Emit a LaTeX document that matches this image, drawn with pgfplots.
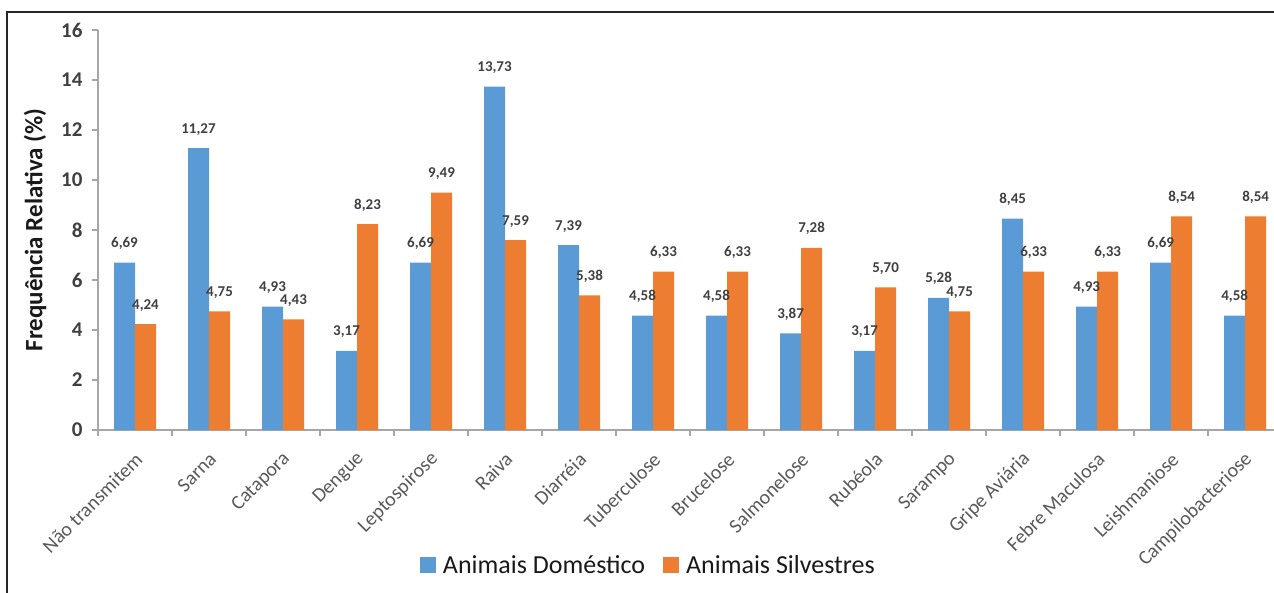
\documentclass[border=0pt]{standalone}
\usepackage{fontspec}
\setmainfont{Carlito}
\usepackage{pgfplots}
\pgfplotsset{compat=1.18}
\definecolor{cblue}{HTML}{5B9BD5}
\definecolor{corange}{HTML}{ED7D31}
\definecolor{txtdark}{HTML}{404040}
\definecolor{txtgray}{HTML}{595959}
\definecolor{axgray}{HTML}{A6A6A6}
\begin{document}
\begin{tikzpicture}[x=1pt,y=1pt]
\path[use as bounding box] (0,0) rectangle (1274,592);
\draw[line width=1.2pt, black!85] (7,-2) -- (7,580) -- (1280,580);
\begin{axis}[
  at={(98pt,162pt)}, anchor=south west,
  scale only axis, width=1176pt, height=400pt,
  xmin=-0.5, xmax=15.39, ymin=0, ymax=16,
  ybar=0pt, bar width=21pt,
  axis x line*=bottom, axis y line*=left,
  axis line style={axgray, line width=1.3pt},
  tick style={axgray, line width=1.3pt},
  tick align=outside, major tick length=6pt,
  /pgf/number format/assume math mode=true,
  ytick={0,2,...,16},
  yticklabel style={font=\bfseries\fontsize{21}{21}\selectfont, text=txtdark, xshift=-6pt},
  xtick={-0.5,0.5,...,15.5}, xticklabels={},
  extra x ticks={0,...,15},
  extra x tick labels={Não transmitem, Sarna, Catapora, Dengue, Leptospirose, Raiva, Diarréia, Tuberculose, Brucelose, Salmonelose, Rubéola, Sarampo, Gripe Aviária, Febre Maculosa, Leishmaniose, Campilobacteriose},
  extra x tick style={tick style={draw=none}, tick label style={rotate=45, anchor=east, font=\fontsize{20}{20}\selectfont, text=txtgray, yshift=-17pt, xshift=-8pt}},
  ylabel={Frequência Relativa (\%)},
  ylabel style={at={(axis description cs:-0.0536,0.5)}, anchor=center, font=\bfseries\fontsize{25}{25}\selectfont, text=black!90},
  point meta=y,
  nodes near coords={\pgfmathprintnumber[fixed,fixed zerofill,precision=2,use comma,assume math mode=true]{\pgfplotspointmeta}},
  every node near coord/.append style={font=\bfseries\fontsize{15}{15}\selectfont, text=txtdark, inner sep=0pt, anchor=base, yshift=15pt},
  legend columns=2,
  legend style={draw=none, fill=none, at={(axis description cs:0.468,-0.3375)}, anchor=center,
    font=\fontsize{26}{26}\selectfont, text=black!90,
    /tikz/every even column/.append style={column sep=16pt}},
  legend image code/.code={\fill[#1,draw=none] (0pt,-8pt) rectangle (16pt,8pt); \path (21pt,0pt);},
]
\addplot[fill=cblue, draw=none] coordinates {
(0,6.69) (1,11.27) (2,4.93) (3,3.17) (4,6.69) (5,13.73) (6,7.39) (7,4.58)
(8,4.58) (9,3.87) (10,3.17) (11,5.28) (12,8.45) (13,4.93) (14,6.69) (15,4.58)};
\addlegendentry{Animais Doméstico}
\addplot[fill=corange, draw=none] coordinates {
(0,4.24) (1,4.75) (2,4.43) (3,8.23) (4,9.49) (5,7.59) (6,5.38) (7,6.33)
(8,6.33) (9,7.28) (10,5.70) (11,4.75) (12,6.33) (13,6.33) (14,8.54) (15,8.54)};
\addlegendentry{Animais Silvestres}
\end{axis}
\end{tikzpicture}
\end{document}
